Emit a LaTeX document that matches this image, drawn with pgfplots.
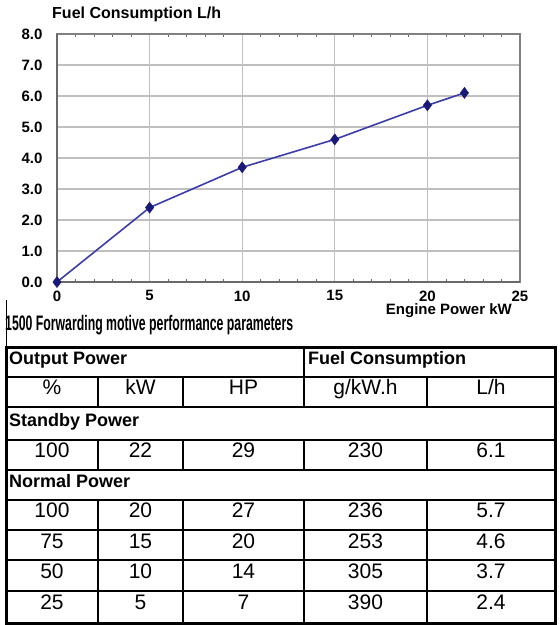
\documentclass[border=0pt]{standalone}
\usepackage{fontspec}
\setmainfont{Liberation Sans}
\usepackage{graphicx}
\usepackage{pgfplots}
\pgfplotsset{compat=1.18}
\definecolor{lineblue}{RGB}{60,60,170}
\definecolor{markblue}{RGB}{25,25,120}
\definecolor{gridgray}{RGB}{192,192,192}
\definecolor{axisgray}{RGB}{105,105,105}
\begin{document}
\begin{tikzpicture}[x=1pt,y=1pt]
\useasboundingbox (0,0) rectangle (560,-625);
\begin{axis}[
  at={(57pt,-282pt)}, anchor=south west,
  scale only axis, width=463pt, height=248pt,
  xmin=0, xmax=25, ymin=0, ymax=8,
  xtick={0,5,10,15,20,25},
  ytick={0,1,...,8},
  minor x tick num=4,
  tick align=inside,
  major tick length=0pt, minor tick length=3pt,
  minor tick style={axisgray, line width=0.8pt},
  grid=major,
  major grid style={gridgray, line width=1.2pt},
  axis line style={axisgray!85, line width=1.3pt},
  /pgf/number format/assume math mode=true,
  yticklabel style={/pgf/number format/fixed, /pgf/number format/fixed zerofill, /pgf/number format/precision=1,
    font=\bfseries\fontsize{15}{15}\selectfont, xshift=-11pt},
  xticklabel style={font=\bfseries\fontsize{15}{15}\selectfont, yshift=-5pt},
  clip=false,
]
\addplot[lineblue, line width=1.6pt, mark=diamond*, mark size=5.5pt,
  mark options={fill=markblue, draw=markblue, line width=0.5pt}]
  coordinates {(0,0) (5,2.4) (10,3.7) (15,4.6) (20,5.7) (22,6.1)};
\draw[axisgray, line width=2.2pt] (rel axis cs:0,1) -- (rel axis cs:0,0) -- (rel axis cs:1,0);
\end{axis}
% chart titles
\node[anchor=mid west, inner sep=0, font=\bfseries\fontsize{16}{16}\selectfont] at (52pt,-16pt) {Fuel Consumption L/h};
\node[anchor=mid east, inner sep=0, font=\bfseries\fontsize{15}{15}\selectfont] at (512pt,-312pt) {Engine Power kW};
% table title
\node[anchor=mid west, inner sep=0, font=\bfseries\fontsize{21}{21}\selectfont] at (5pt,-328pt) {\resizebox{288pt}{\height}{1500 Forwarding motive performance parameters}};
\draw[black, line width=1pt] (6pt,-300pt) -- (6pt,-347pt);
% table lines
\begin{scope}[line width=2.2pt, black]
  \foreach \yy in {377,407,440,470,500,530,560,591} \draw (6pt,-\yy pt) -- (555pt,-\yy pt);
  \draw (304pt,-347pt) -- (304pt,-407pt);
  \draw (304pt,-440pt) -- (304pt,-470pt);
  \draw (304pt,-500pt) -- (304pt,-623pt);
  \foreach \xx in {98,183,427} {
    \draw (\xx pt,-377pt) -- (\xx pt,-407pt);
    \draw (\xx pt,-440pt) -- (\xx pt,-470pt);
    \draw (\xx pt,-500pt) -- (\xx pt,-623pt);
  }
\end{scope}
\draw[black, line width=3pt] (6pt,-347pt) rectangle (555pt,-623pt);
% table text
\begin{scope}[every node/.style={inner sep=0, anchor=mid, font=\fontsize{21}{21}\selectfont}]
  \node[anchor=mid west, font=\bfseries\fontsize{18}{18}\selectfont] at (9pt,-362pt) {Output Power};
  \node[anchor=mid west, font=\bfseries\fontsize{18}{18}\selectfont] at (308pt,-362pt) {Fuel Consumption};
  \node at (52pt,-392pt) {\%};
  \node at (140.5pt,-392pt) {kW};
  \node at (243.5pt,-392pt) {HP};
  \node at (365.5pt,-392pt) {g/kW.h};
  \node at (491pt,-392pt) {L/h};
  \node[anchor=mid west, font=\bfseries\fontsize{18}{18}\selectfont] at (9pt,-423.5pt) {Standby Power};
  \node at (52pt,-455pt) {100}; \node at (140.5pt,-455pt) {22}; \node at (243.5pt,-455pt) {29}; \node at (365.5pt,-455pt) {230}; \node at (491pt,-455pt) {6.1};
  \node[anchor=mid west, font=\bfseries\fontsize{18}{18}\selectfont] at (9pt,-485pt) {Normal Power};
  \node at (52pt,-515pt) {100}; \node at (140.5pt,-515pt) {20}; \node at (243.5pt,-515pt) {27}; \node at (365.5pt,-515pt) {236}; \node at (491pt,-515pt) {5.7};
  \node at (52pt,-545.5pt) {75}; \node at (140.5pt,-545.5pt) {15}; \node at (243.5pt,-545.5pt) {20}; \node at (365.5pt,-545.5pt) {253}; \node at (491pt,-545.5pt) {4.6};
  \node at (52pt,-575.5pt) {50}; \node at (140.5pt,-575.5pt) {10}; \node at (243.5pt,-575.5pt) {14}; \node at (365.5pt,-575.5pt) {305}; \node at (491pt,-575.5pt) {3.7};
  \node at (52pt,-607pt) {25}; \node at (140.5pt,-607pt) {5}; \node at (243.5pt,-607pt) {7}; \node at (365.5pt,-607pt) {390}; \node at (491pt,-607pt) {2.4};
\end{scope}
\end{tikzpicture}
\end{document}
